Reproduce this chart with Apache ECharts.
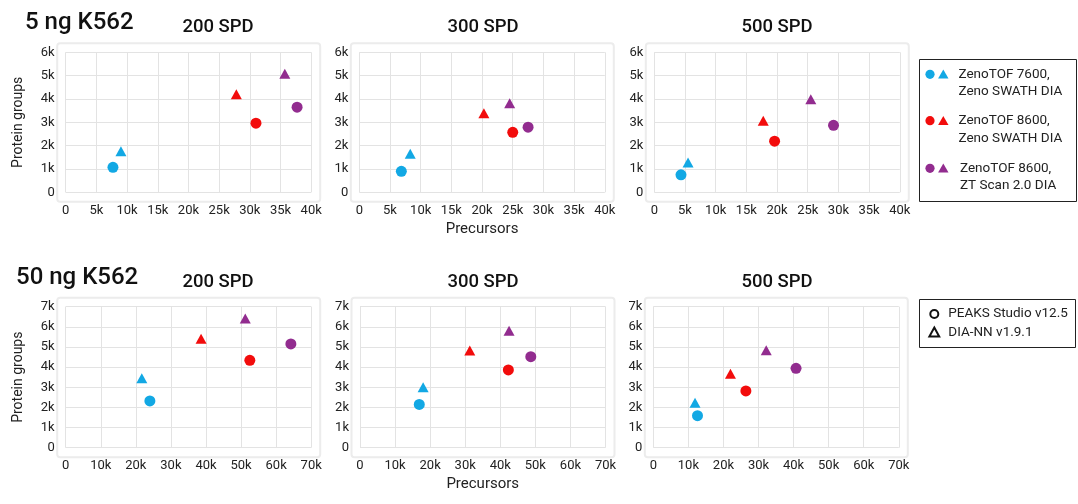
<!DOCTYPE html>
<html><head><meta charset="utf-8">
<script src="https://cdn.jsdelivr.net/npm/echarts@6.0.0/dist/echarts.min.js"></script>
<style>html,body{margin:0;padding:0;background:#fff}#c{width:1078px;height:504px}</style>
</head><body><div id="c"></div><script>
// ---- data ----
const loads = ['5 ng K562', '50 ng K562'];
const speeds = ['200 SPD', '300 SPD', '500 SPD'];
const instruments = ['ZenoTOF 7600,\nZeno SWATH DIA', 'ZenoTOF 8600,\nZeno SWATH DIA', 'ZenoTOF 8600,\nZT Scan 2.0 DIA'];
const softwares = ['PEAKS Studio v12.5', 'DIA-NN v1.9.1'];
const colors = ['#12a8e4', '#f20c0c', '#922c8f'];

// [instrument][speed]
const ng5PeaksPrecursors = [[7700, 6850, 4350], [31000, 25000, 19600], [37700, 27500, 29200]];
const ng5PeaksProteins   = [[1070, 900, 750], [2960, 2570, 2190], [3650, 2790, 2870]];
const ng5DiannPrecursors = [[9000, 8300, 5500], [27800, 20300, 17750], [35700, 24500, 25500]];
const ng5DiannProteins   = [[1760, 1650, 1280], [4200, 3390, 3070], [5080, 3820, 3990]];

const ng50PeaksPrecursors = [[24000, 16900, 12600], [52500, 42300, 26400], [64200, 48700, 40700]];
const ng50PeaksProteins   = [[2320, 2150, 1590], [4340, 3860, 2820], [5150, 4520, 3940]];
const ng50DiannPrecursors = [[21700, 18000, 11900], [38600, 31300, 22000], [51200, 42500, 32200]];
const ng50DiannProteins   = [[3450, 3000, 2230], [5410, 4820, 3670], [6420, 5810, 4840]];

const xMax = [40000, 70000], xInterval = [5000, 10000];
const yMax = [6000, 7000], yInterval = [1000, 1000];

// ---- layout ----
const FONT = 'Roboto, "DejaVu Sans", sans-serif';
const gridLeft = [[65.7, 359.3, 654.3], [65.7, 360, 653.3]];
const gridTop = [52.3, 306.7];
const gridH = [140, 141];
const gridW = 245.5;
const titleX = [218, 483, 777];
const titleY = [18, 272.5];
const loadPos = [[25, 10.5], [16, 266]];

const dataSets = [
  [[ng5PeaksPrecursors, ng5PeaksProteins], [ng5DiannPrecursors, ng5DiannProteins]],
  [[ng50PeaksPrecursors, ng50PeaksProteins], [ng50DiannPrecursors, ng50DiannProteins]]
];

const kFmt = v => v === 0 ? '0' : (v / 1000) + 'k';
const grids = [], xAxes = [], yAxes = [], series = [], titles = [], graphics = [];

for (let r = 0; r < 2; r++) {
  titles.push({text: loads[r], left: loadPos[r][0], top: loadPos[r][1], padding: 0,
    textStyle: {fontFamily: FONT, fontSize: 24, fontWeight: 500, color: '#111'}});
  for (let c = 0; c < 3; c++) {
    const idx = r * 3 + c;
    const L = gridLeft[r][c], T = gridTop[r], H = gridH[r];
    grids.push({left: L, top: T, width: gridW, height: H});
    graphics.push({type: 'rect', silent: true, z: -1,
      shape: {x: L - 8.5, y: T - 9, width: gridW + 17.5, height: H + 18.5, r: 3},
      style: {fill: 'none', stroke: '#ececec', lineWidth: 2}});
    titles.push({text: speeds[c], left: titleX[c], top: titleY[r], textAlign: 'center', padding: 0,
      textStyle: {fontFamily: FONT, fontSize: 18.5, fontWeight: 500, color: '#111'}});
    xAxes.push({type: 'value', gridIndex: idx, min: 0, max: xMax[r], interval: xInterval[r],
      name: c === 1 ? 'Precursors' : '', nameLocation: 'middle', nameGap: 29,
      nameTextStyle: {fontFamily: FONT, fontSize: 15, color: '#222'},
      axisLine: {show: false}, axisTick: {show: false},
      axisLabel: {formatter: kFmt, fontFamily: FONT, fontSize: 13, color: '#222', margin: 12},
      splitLine: {show: true, lineStyle: {color: '#e3e3e3', width: 1}}});
    yAxes.push({type: 'value', gridIndex: idx, min: 0, max: yMax[r], interval: yInterval[r],
      name: c === 0 ? 'Protein groups' : '', nameLocation: 'middle', nameGap: 40,
      nameTextStyle: {fontFamily: FONT, fontSize: 14, color: '#222'},
      axisLine: {show: false}, axisTick: {show: false},
      axisLabel: {formatter: kFmt, fontFamily: FONT, fontSize: 13, color: '#222', margin: 11},
      splitLine: {show: true, lineStyle: {color: '#e3e3e3', width: 1}}});
    for (let s = 0; s < 2; s++) {
      const [px, py] = dataSets[r][s];
      for (let i = 0; i < 3; i++) {
        series.push({type: 'scatter', name: instruments[i] + ' / ' + softwares[s],
          xAxisIndex: idx, yAxisIndex: idx,
          symbol: s === 0 ? 'circle' : 'triangle',
          symbolSize: s === 0 ? 11 : [11, 10],
          itemStyle: {color: colors[i], opacity: 1},
          emphasis: {disabled: true},
          data: [[px[i][c], py[i][c]]]});
      }
    }
  }
}

// legend 1 (instrument colours)
graphics.push({type: 'rect', shape: {x: 919.5, y: 59.5, width: 157, height: 142},
  style: {fill: '#fff', stroke: '#222', lineWidth: 1}});
const legRowY = [74.3, 120.7, 168.3];
const legTextX = [958.5, 958.5, 960];
for (let i = 0; i < 3; i++) {
  const y = legRowY[i];
  graphics.push({type: 'circle', shape: {cx: 930, cy: y, r: 4.6}, style: {fill: colors[i]}});
  graphics.push({type: 'polygon', shape: {points: [[943.3, y - 4.8], [948.5, y + 4.2], [938.1, y + 4.2]]}, style: {fill: colors[i]}});
  graphics.push({type: 'text', x: legTextX[i], y: y - 8.8,
    style: {text: instruments[i], fontFamily: FONT, fontSize: 13.5, lineHeight: 17.5,
      fill: '#222', textVerticalAlign: 'top'}});
}
// legend 2 (software shapes)
graphics.push({type: 'rect', shape: {x: 919.5, y: 299.5, width: 156, height: 48},
  style: {fill: '#fff', stroke: '#222', lineWidth: 1}});
graphics.push({type: 'circle', shape: {cx: 934.3, cy: 314, r: 4}, style: {fill: 'none', stroke: '#111', lineWidth: 2}});
graphics.push({type: 'polygon', shape: {points: [[934.3, 327.6], [939.2, 336.4], [929.4, 336.4]]}, style: {fill: 'none', stroke: '#111', lineWidth: 2}});
graphics.push({type: 'text', x: 948.3, y: 314, style: {text: softwares[0], fontFamily: FONT, fontSize: 13.5, fill: '#222', textVerticalAlign: 'middle'}});
graphics.push({type: 'text', x: 948.3, y: 332.7, style: {text: softwares[1], fontFamily: FONT, fontSize: 13.5, fill: '#222', textVerticalAlign: 'middle'}});

const chart = echarts.init(document.getElementById('c'), null, {renderer: 'canvas'});
chart.setOption({
  animation: false,
  backgroundColor: '#fff',
  title: titles,
  grid: grids,
  xAxis: xAxes,
  yAxis: yAxes,
  series: series,
  graphic: graphics
});
</script></body></html>
